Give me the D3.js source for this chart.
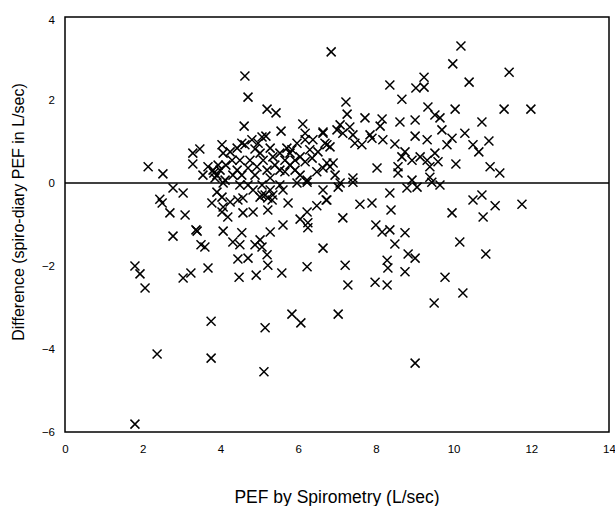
<!DOCTYPE html>
<html lang="en">
<head>
  <meta charset="UTF-8">
  <title>PEF difference</title>
  <script src="https://cdn.jsdelivr.net/npm/d3@7/dist/d3.min.js"></script>
  <style>
    body { margin: 0; background: #fff; }
    .axis text {
      font-family: "Liberation Sans", Arial, sans-serif;
      font-size: 11.5px;
      fill: #000;
    }
    .label {
      font-family: "Liberation Sans", Arial, sans-serif;
      fill: #000;
    }
    .mark {
      stroke: #000;
      stroke-width: 1.5;
      fill: none;
    }
  </style>
</head>
<body>
<svg width="615" height="506"></svg>
<script>
  // ticks
  const xTicks = [0, 2, 4, 6, 8, 10, 12, 14];
  const yTicks = [-6, -4, -2, 0, 2, 4];

  // PEF by spirometry (L/sec)
  const pef = [
    1.80, 1.80, 1.93, 2.06, 2.14, 2.52, 2.37, 2.78, 3.04, 2.44, 2.50, 2.70, 3.09, 2.78, 3.37, 3.04, 3.24, 3.29, 3.29,
    3.78, 4.07, 4.25, 4.45, 4.58, 4.04, 4.19, 4.58, 4.84, 5.22, 5.33, 5.15, 5.74, 6.48, 6.72, 6.23, 6.05, 6.25, 6.25,
    5.61, 3.40, 4.07, 4.55, 4.32, 4.50, 3.60, 3.50, 4.89, 5.02, 5.07, 5.28, 5.20, 5.22, 4.45, 4.71, 3.68, 4.48, 4.92,
    5.58, 6.23, 6.64, 3.76, 5.84, 5.15, 6.07, 3.76, 5.12,
    6.64, 7.03, 7.41, 6.74, 8.36, 8.80, 9.06, 9.65, 9.44, 7.59, 7.90, 8.39, 9.96, 7.15, 8.00, 8.16, 8.36, 8.75, 8.49,
    8.83, 9.01, 8.29, 8.31, 8.75, 7.21, 7.28, 7.98, 8.29, 9.78, 9.50, 7.03, 9.01, 10.16,
    10.50, 10.73, 11.07, 11.76, 10.76, 10.83, 10.24,
    10.19, 9.98, 10.40, 11.43, 10.04, 11.30, 11.99, 10.73, 10.29, 9.96, 10.50, 10.65, 10.91, 10.06, 10.94, 11.19,
    6.85, 8.36, 9.03, 9.24, 9.24, 8.67, 7.23, 9.34, 9.52, 9.65, 7.72, 8.16, 8.62, 9.01, 7.26, 7.08, 7.33, 7.41, 7.15,
    7.00, 7.85, 8.11, 8.18, 7.90, 7.64, 7.46, 6.74, 6.64, 8.49, 9.01, 9.32, 9.70, 9.83, 8.75, 8.67, 8.93, 9.14, 9.32,
    9.39, 9.52, 9.60, 8.03, 8.57, 8.57, 7.41, 7.08, 6.82, 6.74, 6.90, 6.82, 6.95, 8.93, 9.39,
    4.63, 4.71, 5.20, 5.43, 4.61, 6.12, 6.18, 6.64, 5.56, 5.17, 5.07, 6.18, 5.97, 4.04, 3.47, 4.55, 4.63, 4.43, 4.89,
    4.25, 4.07, 5.71, 5.79, 5.53, 5.35, 6.05, 6.30, 6.51, 6.69, 3.68, 3.81, 3.91, 3.55, 3.86, 4.43, 4.55, 4.94, 5.20,
    5.28, 5.79, 6.05, 6.23, 6.48, 6.64, 4.12, 4.32, 4.76, 4.50, 5.02, 5.28, 4.04, 4.84, 5.07, 5.22, 5.61,
    4.07, 4.50, 5.07, 5.28, 5.97, 6.23, 3.91, 5.02, 5.35,
    3.94, 3.99, 4.14, 3.83, 6.38, 4.81, 5.66, 5.92, 5.53, 4.89, 4.71, 5.53,
    5.10, 5.40, 5.66, 5.92, 6.18, 6.36, 4.71, 4.30, 4.97, 5.84
  ];

  // difference, spiro minus diary PEF (L/sec)
  const diff = [
    -5.81, -2.00, -2.19, -2.53, 0.39, 0.22, -4.12, -0.12, -0.24, -0.39, -0.48, -0.72, -0.77, -1.28, -1.13, -2.29, -2.17, 0.72, 0.46,
    -0.48, -0.58, -0.46, -0.41, -0.36, -0.70, -0.82, -0.72, -0.70, -0.65, -0.41, -0.29, -0.48, -0.55, -0.41, -0.70, -0.87, -0.96, -1.08,
    -1.01, -1.16, -1.16, -1.20, -1.42, -1.49, -1.54, -1.49, -1.49, -1.37, -1.54, -1.18, -1.73, -1.98, -1.83, -1.81, -2.05, -2.27, -2.22,
    -2.17, -2.02, -1.57, -3.33, -3.16, -3.49, -3.37, -4.22, -4.55,
    -0.17, -0.10, 0.02, -0.41, -0.24, -0.12, -0.10, -0.05, 0.02, -0.51, -0.48, -0.65, -0.72, -0.84, -1.01, -1.18, -1.13, -1.20, -1.47,
    -1.71, -1.81, -1.86, -2.05, -2.14, -1.98, -2.46, -2.39, -2.46, -2.27, -2.89, -3.16, -4.34, -1.42,
    -0.41, -0.29, -0.55, -0.51, -0.82, -1.71, -2.65,
    3.30, 2.87, 2.43, 2.67, 1.78, 1.78, 1.78, 1.47, 1.20, 1.08, 0.92, 0.75, 1.01, 0.46, 0.39, 0.24,
    3.16, 2.36, 2.29, 2.55, 2.31, 2.02, 1.95, 1.83, 1.64, 1.57, 1.57, 1.54, 1.47, 1.52, 1.66, 1.40, 1.35, 1.16, 1.20,
    1.28, 1.16, 1.37, 1.04, 1.08, 0.92, 0.96, 0.92, 1.23, 0.94, 1.13, 1.04, 1.28, 0.92, 0.75, 0.63, 0.55, 0.63, 0.55,
    0.39, 0.72, 0.51, 0.36, 0.39, 0.24, 0.12, 0.00, 0.87, 0.48, 0.48, 0.39, 0.19, 0.07, 0.14,
    2.58, 2.07, 1.78, 1.69, 1.37, 1.42, 1.20, 1.20, 1.25, 1.13, 1.11, 1.04, 0.96, 0.92, 0.82, 0.96, 0.92, 0.84, 0.82,
    0.75, 0.72, 0.84, 0.72, 0.72, 0.63, 0.63, 0.80, 0.75, 0.96, 0.39, 0.31, 0.19, 0.19, 0.12, 0.31, 0.19, 0.39, 0.31,
    0.12, 0.43, 0.19, 0.07, 0.27, 0.36, 0.07, 0.19, 0.55, 0.55, 0.72, 0.84, -0.34, -0.17, -0.29, -0.36, -0.17,
    0.00, -0.05, -0.05, -0.17, 0.00, 0.02, -0.22, -0.34, -0.29,
    0.43, 0.31, 0.43, 0.24, 1.04, 1.04, 0.55, 0.31, 0.31, 0.19, -0.05, -0.05,
    0.55, 0.43, 0.27, 0.55, 0.51, 0.60, 0.36, 0.55, 0.96, 0.80
  ];

  const points = pef.map((d, i) => ({ x: d, y: diff[i] }));

  const svg = d3.select('svg');
  const plot = { left: 65, right: 609, top: 17, bottom: 432 };

  const xScale = d3.scaleLinear().domain([0, 14]).range([plot.left, plot.right]);
  const yScale = d3.scaleLinear().domain([-6, 4]).range([plot.bottom, plot.top]);

  // x axis labels
  const gX = svg.append('g')
    .attr('class', 'axis')
    .attr('transform', `translate(0, ${plot.bottom})`)
    .call(d3.axisBottom(xScale).tickValues(xTicks).tickSize(0).tickPadding(13).tickFormat(d3.format('d')));
  gX.select('.domain').remove();

  // y axis labels
  const gY = svg.append('g')
    .attr('class', 'axis')
    .attr('transform', `translate(${plot.left}, 0)`)
    .call(d3.axisLeft(yScale).tickValues(yTicks).tickSize(0).tickPadding(10).tickFormat(d3.format('d')));
  gY.select('.domain').remove();
  gY.selectAll('.tick').filter(d => d === 4).select('text').attr('dy', '0.6em');

  // plot frame
  svg.append('rect')
    .attr('x', plot.left)
    .attr('y', plot.top)
    .attr('width', plot.right - plot.left)
    .attr('height', plot.bottom - plot.top)
    .attr('fill', 'none')
    .attr('stroke', '#000')
    .attr('stroke-width', 1.5);

  // zero line
  svg.append('line')
    .attr('x1', plot.left).attr('x2', plot.right)
    .attr('y1', yScale(0)).attr('y2', yScale(0))
    .attr('stroke', '#000')
    .attr('stroke-width', 1.5);

  // crosses
  const r = 4.5;
  svg.append('g')
    .selectAll('path')
    .data(points)
    .join('path')
    .attr('class', 'mark')
    .attr('d', d => {
      const cx = xScale(d.x), cy = yScale(d.y);
      return `M${cx - r},${cy - r}L${cx + r},${cy + r}M${cx - r},${cy + r}L${cx + r},${cy - r}`;
    });

  // axis titles
  svg.append('text')
    .attr('class', 'label')
    .attr('x', 337)
    .attr('y', 503)
    .attr('text-anchor', 'middle')
    .attr('font-size', 17.5)
    .text('PEF by Spirometry (L/sec)');

  svg.append('text')
    .attr('class', 'label')
    .attr('transform', 'translate(24, 212) rotate(-90)')
    .attr('text-anchor', 'middle')
    .attr('font-size', 16)
    .text('Difference (spiro-diary PEF in L/sec)');
</script>
</body>
</html>
